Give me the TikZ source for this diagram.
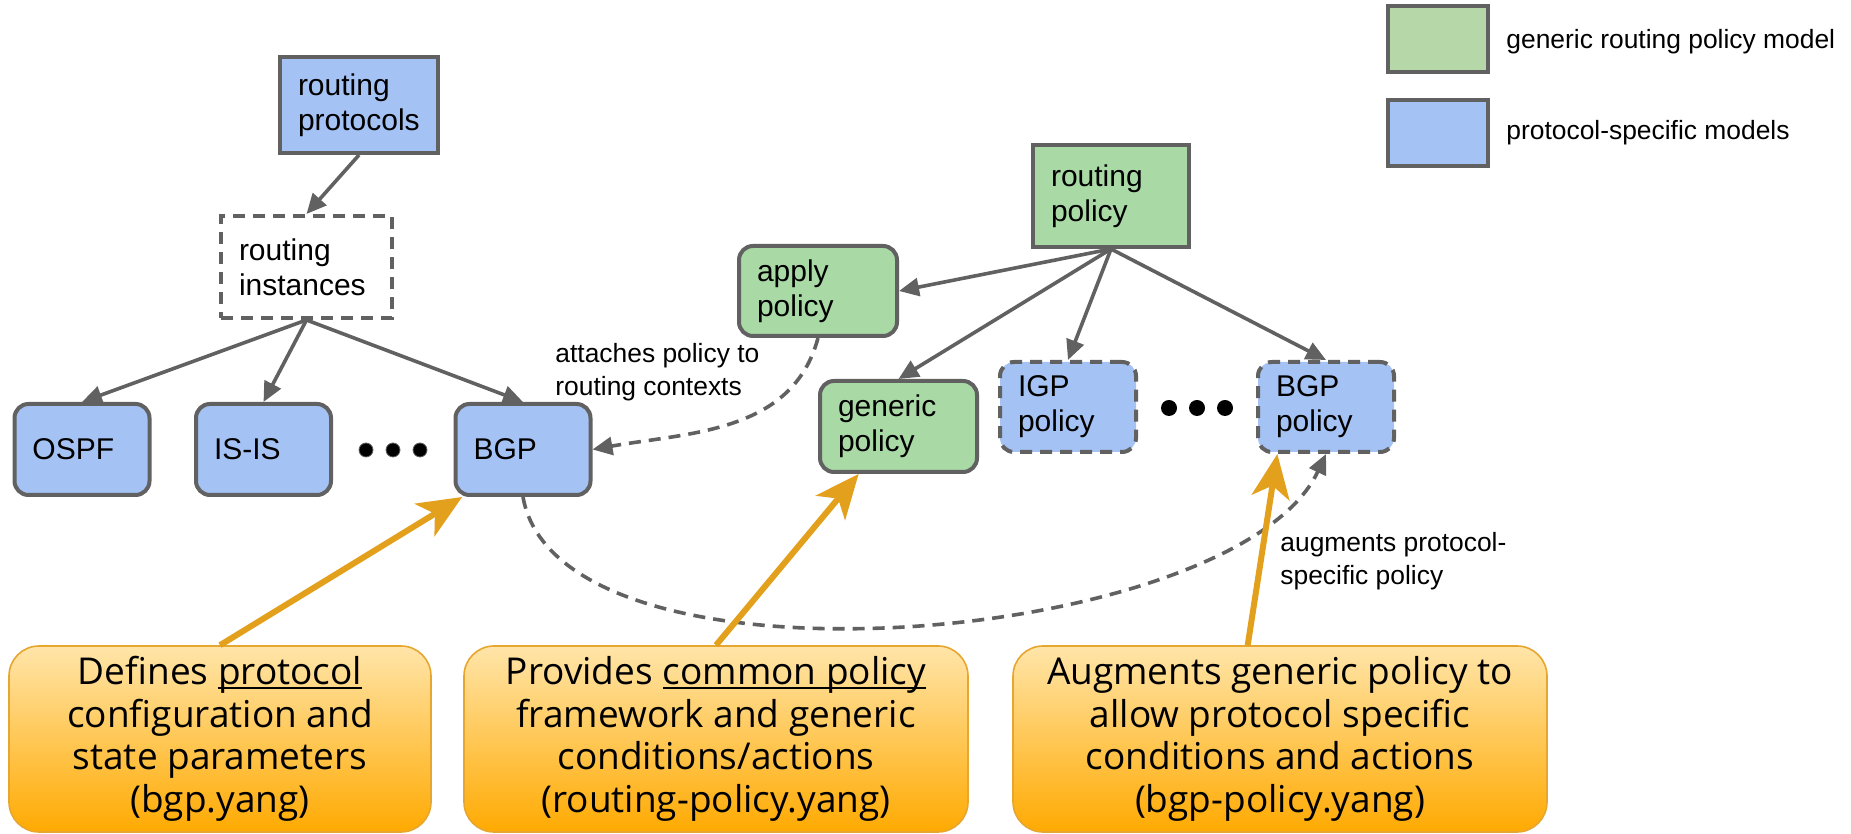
\documentclass[tikz,border=0pt]{standalone}
\usepackage{fontspec}
\setmainfont{Liberation Sans}
\newfontfamily\notefont{Open Sans}
\usetikzlibrary{arrows.meta}
\definecolor{edgegray}{HTML}{616161}
\definecolor{protoblue}{HTML}{A4C2F4}
\definecolor{policygreen}{HTML}{A9DAA6}
\definecolor{legendgreen}{HTML}{B6D7A8}
\definecolor{callarrowcol}{HTML}{E3A01C}
\definecolor{noteline}{HTML}{E6A630}
\definecolor{notetop}{HTML}{FFE5A9}
\definecolor{notebottom}{HTML}{FFAA02}
\newcommand{\lined}[1]{\setbox0\hbox{#1}\rlap{\rule[-0.11em]{\wd0}{0.06em}}\box0}

\begin{document}
\begin{tikzpicture}[x=0.5pt, y=0.5pt,
  font=\fontsize{15pt}{17.5pt}\selectfont,
  model/.style={draw=edgegray, line width=2pt, inner xsep=9pt, inner ysep=0pt, align=left},
  proto/.style={model, fill=protoblue},
  policy/.style={model, fill=policygreen},
  soft/.style={rounded corners=7pt},
  maybe/.style={dash pattern=on 6pt off 4pt},
  link/.style={draw=edgegray, line width=1.8pt, -{Triangle[length=10pt,width=9pt]}},
  callarrow/.style={draw=callarrowcol, line width=3pt, -{Stealth[length=22pt,width=19pt,inset=6pt]}},
  note/.style={draw=noteline, line width=0.8pt, rounded corners=15pt, top color=notetop, bottom color=notebottom,
    align=center, minimum height=93pt, inner sep=0pt, font={\notefont\fontsize{18.5pt}{21.25pt}\selectfont}},
  tag/.style={anchor=west, inner sep=0pt, align=left, font=\fontsize{13.2pt}{16.5pt}\selectfont}]
\useasboundingbox (0, 0) rectangle (1851, 834);
\node [proto, text width=61pt, minimum height=48pt] (rp) at (359, 729) {routing\\protocols};
\node [model, maybe, text width=67.5pt, minimum height=51pt] (ri) at (306.5, 567) {routing\\instances};
\node [proto, soft, text width=49.5pt, minimum height=45.5pt] (ospf) at (82, 384.5) {OSPF};
\node [proto, soft, text width=49.5pt, minimum height=45.5pt] (isis) at (263.5, 384.5) {IS-IS};
\node [proto, soft, text width=49.5pt, minimum height=45.5pt] (bgp) at (523, 384.5) {BGP};
\foreach \x in {366, 393, 420} \fill [draw=edgegray] (\x, 384) circle (3.5pt);
\node [policy, text width=60pt, minimum height=51pt] (rpol) at (1111, 638) {routing\\policy};
\node [policy, soft, text width=61pt, minimum height=45pt] (ap) at (818, 543) {apply\\policy};
\node [policy, soft, text width=60.5pt, minimum height=45.5pt] (gp) at (898.5, 407.5) {generic\\policy};
\node [proto, soft, maybe, text width=50pt, minimum height=45pt] (igp) at (1068, 427) {IGP\\policy};
\node [proto, soft, maybe, text width=50pt, minimum height=45pt] (bgppol) at (1326, 427) {BGP\\policy};
\foreach \x in {1169, 1197, 1225} \fill (\x, 426) circle (4pt);
\draw [link] (rp.south) -- (ri.north);
\draw [link] (ri.south) -- (ospf.north);
\draw [link] (ri.south) -- (isis.north);
\draw [link] (ri.south) -- (bgp.north);
\draw [link] (rpol.south) -- (ap.east);
\draw [link] (rpol.south) -- (gp.north);
\draw [link] (rpol.south) -- (igp.north);
\draw [link] (rpol.south) -- (bgppol.north);
\draw [link, maybe] (ap.south) to [out=-105, in=10] (bgp.east);
\draw [link, maybe] (bgp.south) to [out=-80, in=-115, looseness=0.67] (bgppol.south);
\node [tag] (attach) at (555, 462) {attaches policy to\\routing contexts};
\node [tag] (augment) at (1280, 273) {augments protocol-\\specific policy};
\node [note, minimum width=211pt] (c1) at (220, 95) {Defines \lined{protocol}\\configuration and\\state parameters\\(bgp.yang)};
\node [note, minimum width=252pt] (c2) at (716, 95) {Provides \lined{common policy}\\framework and generic\\conditions/actions\\(routing-policy.yang)};
\node [note, minimum width=267pt] (c3) at (1280, 95) {Augments generic policy to\\allow protocol specific\\conditions and actions\\(bgp-policy.yang)};
\draw [callarrow] (c1.north) -- (bgp.218);
\draw [callarrow] (c2.north) -- (gp.230);
\draw [callarrow] (c3.109) -- (bgppol.224);
\node [model, fill=legendgreen, minimum width=50pt, minimum height=33pt] (keygreen) at (1438, 795) {};
\node [tag] (keygreentext) at (1506, 792) {generic routing policy model};
\node [model, fill=protoblue, minimum width=50pt, minimum height=33pt] (keyblue) at (1438, 700.5) {};
\node [tag] (keybluetext) at (1506, 701) {protocol-specific models};
\end{tikzpicture}
\end{document}
